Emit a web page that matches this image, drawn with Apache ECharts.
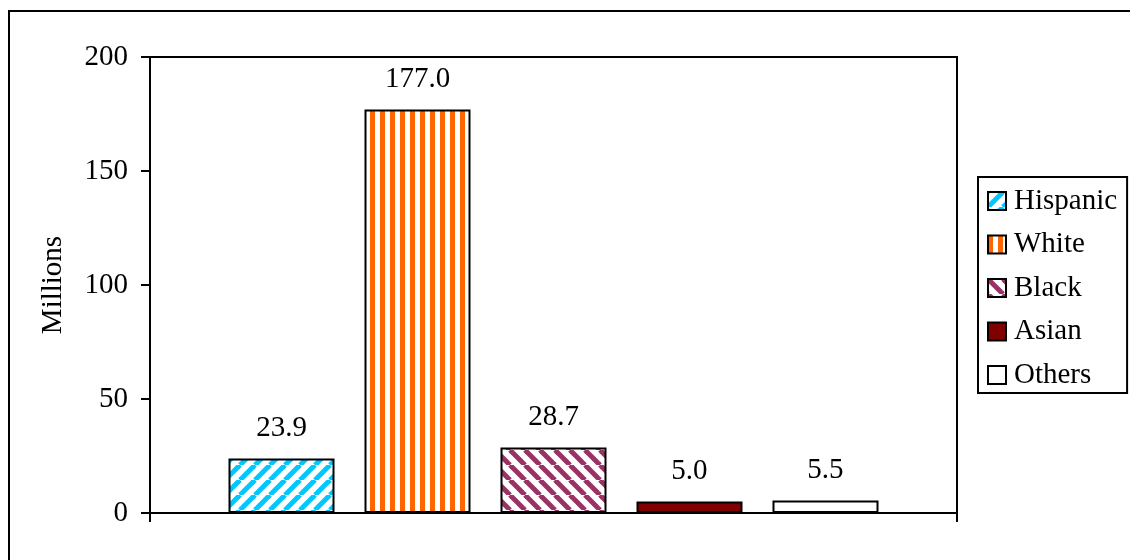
<!DOCTYPE html>
<html>
<head>
<meta charset="utf-8">
<script src="https://cdn.jsdelivr.net/npm/echarts@6/dist/echarts.min.js"></script>
<style>
  html, body { margin: 0; padding: 0; background: #fff; }
  #chart { width: 1130px; height: 560px; }
</style>
</head>
<body>
<div id="chart"></div>
<script>
// Population by group, in millions
const groups = ['Hispanic', 'White', 'Black', 'Asian', 'Others'];
const millions = [23.9, 177.0, 28.7, 5.0, 5.5];
const yTicks = [0, 50, 100, 150, 200];

const FONT = '"Liberation Serif", "Times New Roman", serif';
const FS = 29;

// Fill patterns drawn onto small tiles
function tile(size, draw) {
  const c = document.createElement('canvas');
  c.width = size; c.height = size;
  const g = c.getContext('2d');
  g.fillStyle = '#ffffff';
  g.fillRect(0, 0, size, size);
  draw(g, size);
  return { image: c, repeat: 'repeat' };
}
function diagonal(color, rising) {
  return tile(15, (g, s) => {
    g.strokeStyle = color;
    g.lineWidth = 5;
    for (let k = -1; k <= 1; k++) {
      g.beginPath();
      if (rising) { g.moveTo(k * s, s); g.lineTo(k * s + s, 0); }
      else { g.moveTo(k * s, 0); g.lineTo(k * s + s, s); }
      g.stroke();
    }
  });
}
function vertical(color) {
  return tile(10, (g, s) => {
    g.fillStyle = color;
    g.fillRect(0, 0, 5, s);
  });
}

const fills = [
  diagonal('#00c8ff', true),
  vertical('#ff6600'),
  diagonal('#993366', false),
  '#800000',
  '#ffffff'
];

const series = groups.map((name, i) => ({
  name: name,
  type: 'bar',
  data: [millions[i]],
  barWidth: 106,
  barGap: '28.3%',
  itemStyle: { color: fills[i], borderColor: '#000', borderWidth: 2 },
  label: {
    show: true,
    position: 'top',
    distance: 16,
    color: '#000',
    fontFamily: FONT,
    fontSize: FS,
    formatter: p => p.value.toFixed(1)
  }
}));

const chart = echarts.init(document.getElementById('chart'), null, { renderer: 'canvas' });
chart.setOption({
  animation: false,
  backgroundColor: '#fff',
  graphic: [{
    type: 'rect',
    shape: { x: 9, y: 11, width: 1300, height: 700 },
    style: { fill: 'none', stroke: '#000', lineWidth: 2 },
    silent: true
  }],
  grid: {
    left: 150, top: 57, right: 173, bottom: 47,
    show: true, borderColor: '#000', borderWidth: 2, backgroundColor: 'transparent'
  },
  legend: {
    orient: 'vertical',
    left: 978, top: 177,
    padding: [9, 10, 3, 9],
    borderColor: '#000', borderWidth: 2,
    itemWidth: 18, itemHeight: 18, itemGap: 13.5,
    icon: 'rect',
    selectedMode: false,
    data: groups,
    textStyle: { color: '#000', fontFamily: FONT, fontSize: FS, lineHeight: 30, padding: [0, 0, 0, 3] }
  },
  xAxis: {
    type: 'category',
    data: [''],
    axisLine: { lineStyle: { color: '#000', width: 2 } },
    axisTick: { show: true, length: 9, lineStyle: { color: '#000', width: 2 } },
    axisLabel: { show: false },
    splitLine: { show: false }
  },
  yAxis: {
    type: 'value',
    min: yTicks[0], max: yTicks[yTicks.length - 1], interval: 50,
    name: 'Millions',
    nameLocation: 'middle',
    nameGap: 82,
    nameTextStyle: { color: '#000', fontFamily: FONT, fontSize: FS },
    axisLine: { show: true, lineStyle: { color: '#000', width: 2 } },
    axisTick: { show: true, length: 9, lineStyle: { color: '#000', width: 2 } },
    axisLabel: { color: '#000', fontFamily: FONT, fontSize: FS, margin: 22 },
    splitLine: { show: false }
  },
  series: series
});
</script>
</body>
</html>
